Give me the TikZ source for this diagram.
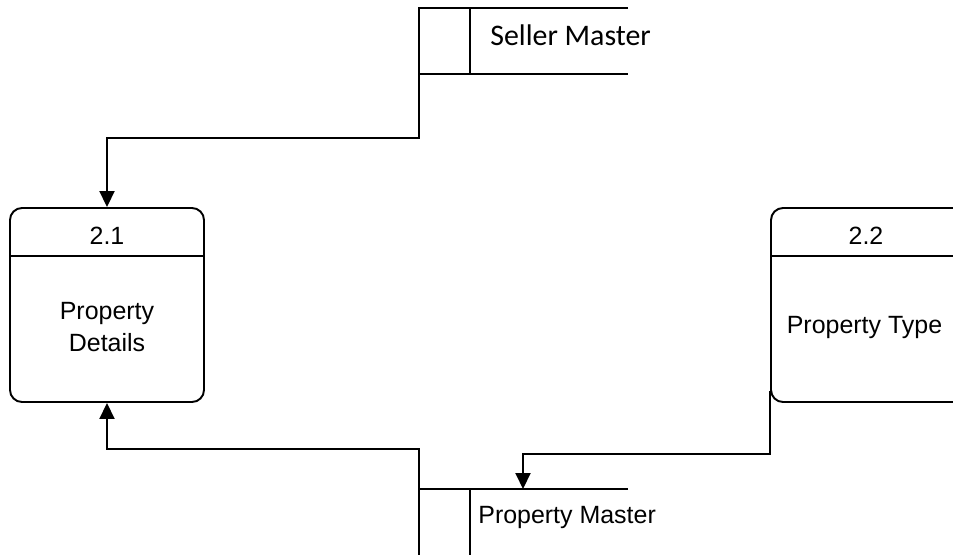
\documentclass[tikz,border=0pt]{standalone}
\usepackage{fontspec}
\setmainfont{Liberation Sans}
\newfontfamily\calibri{Carlito}
\usetikzlibrary{arrows.meta,positioning,calc}

\begin{document}
\begin{tikzpicture}[x=1cm,y=1cm,
  proc/.style={draw,line width=1.1pt,rounded corners=0.24cm,minimum width=3.88cm,minimum height=3.88cm,inner sep=0pt},
  flow/.style={line width=1.1pt,-{Triangle[length=0.32cm,width=0.3cm]}},
  store/.style={line width=1.1pt},
  lbl/.style={font=\fontsize{14.2}{18.2}\selectfont,align=center,inner sep=0pt}]
\useasboundingbox (0,0) rectangle (19.06,-11.08);
\clip (0,0) rectangle (19.06,-11.08);

% processes
\node[proc] (p21) at (2.14,-6.10) {};
\node[proc] (p22) at (17.36,-6.10) {};
\draw[store] ($(p21.north west)+(0,-0.98)$) -- ($(p21.north east)+(0,-0.98)$);
\draw[store] ($(p22.north west)+(0,-0.98)$) -- ($(p22.north east)+(0,-0.98)$);
\node[lbl] (p21-id) at ($(p21.north)+(0,-0.58)$) {2.1};
\node[lbl] (p22-id) at ($(p22.north)+(-0.04,-0.58)$) {2.2};
\node[lbl] (p21-name) at ($(p21.center)+(0,-0.44)$) {Property\\Details};
\node[lbl] (p22-name) at ($(p22.center)+(-0.07,-0.44)$) {Property Type};

% data stores
\coordinate (sm-nw) at (8.38,-0.16);
\coordinate (sm-sw) at (8.38,-1.48);
\draw[store] (12.56,-0.16) -- (sm-nw) -- (sm-sw) -- (12.56,-1.48);
\draw[store] (9.40,-0.16) -- (9.40,-1.48);
\node[anchor=west,inner sep=0pt,font=\calibri\fontsize{17}{20}\selectfont] (sm) at (9.80,-0.70) {Seller Master};

\coordinate (pm-nw) at (8.38,-9.78);
\coordinate (pm-in) at (10.46,-9.78);
\draw[store] (12.56,-9.78) -- (pm-nw) -- (8.38,-11.30);
\draw[store] (9.40,-9.78) -- (9.40,-11.30);
\node[lbl,anchor=west] (pm) at (9.56,-10.34) {Property Master};

% flows
\coordinate (bend1) at (8.38,-2.76);
\coordinate (bend2) at (8.38,-8.98);
\draw[flow] (sm-sw) -- (bend1) -| (p21.north);
\draw[flow] (pm-nw) -- (bend2) -| (p21.south);
\draw[flow] ($(p22.south west)+(0,0.24)$) -- ++(0,-1.26) -| (pm-in);
\end{tikzpicture}
\end{document}
